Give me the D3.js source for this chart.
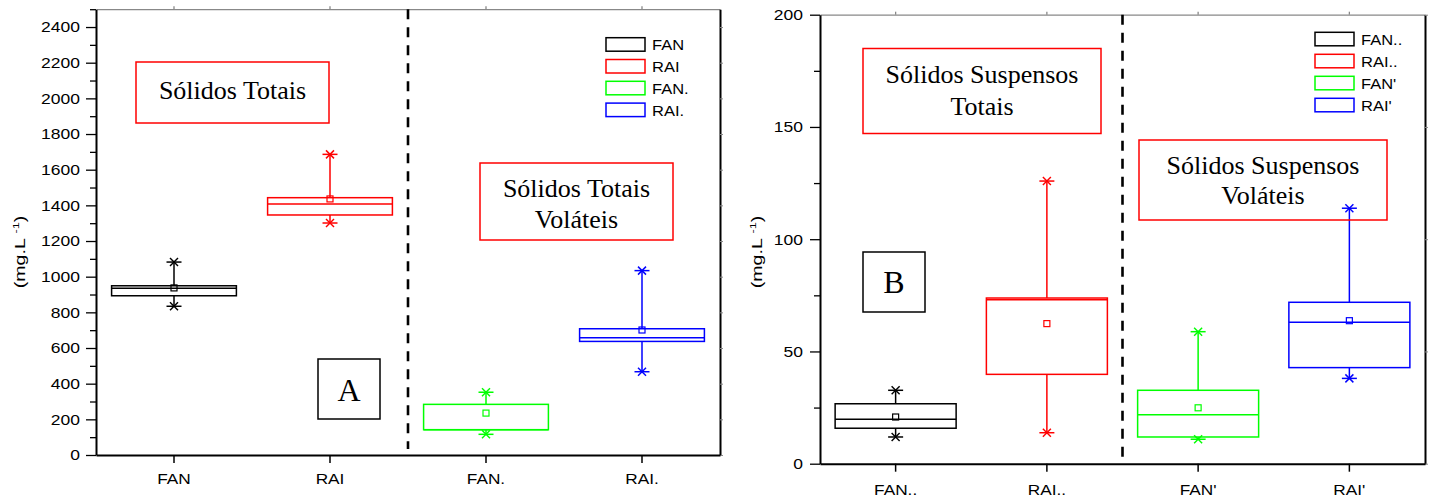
<!DOCTYPE html>
<meta charset="utf-8">
<script src="https://d3js.org/d3.v7.min.js"></script>
<style>
body { margin: 0; background: #fff; }
text { font-family: "Liberation Sans", Arial, sans-serif; fill: #000; }
.serif { font-family: "Liberation Serif", "Times New Roman", serif; }
</style>
<body></body>
<script>

// panel A : total solids (mg/L)
var catsA = ["FAN", "RAI", "FAN.", "RAI."];
var minA  = [834, 1301, 116, 467];
var q1A   = [893, 1346, 142, 637];
var medA  = [935, 1408, 142, 658];
var q3A   = [949, 1443, 284, 708];
var maxA  = [1082, 1686, 352, 1034];
var meanA = [937, 1436, 235, 701];
var ticksA = [0, 200, 400, 600, 800, 1000, 1200, 1400, 1600, 1800, 2000, 2200, 2400];

// panel B : suspended solids (mg/L)
var catsB = ["FAN..", "RAI..", "FAN'", "RAI'"];
var minB  = [11.9, 13.8, 10.9, 38];
var q1B   = [15.8, 39.8, 11.9, 42.8];
var medB  = [19.8, 73, 21.8, 63];
var q3B   = [26.7, 73.8, 32.7, 71.9];
var maxB  = [32.7, 125.9, 58.8, 113.8];
var meanB = [20.8, 62.4, 24.9, 63.7];
var ticksB = [0, 50, 100, 150, 200];

var colors = ["#000000", "#ff0000", "#00ff00", "#0000ff"];

var svg = d3.select("body").append("svg")
    .attr("width", 1432)
    .attr("height", 497);

var panels = [
  {cats: catsA, lo: minA, q1: q1A, med: medA, q3: q3A, hi: maxA, mean: meanA,
   ticks: ticksA, minor: d3.range(100, 2501, 200), domain: [0, 2500],
   left: 96, right: 720, top: 9.2, bottom: 455,
   labelX: -16, xLabelY: 29, titleX: 25, titleY: 252,
   legend: {x: 606, y: 37.7, step: 21.8, textX: 652},
   notes: [
     {x: 136, y: 62, w: 193, h: 61, stroke: "#ff0000", lines: ["Sólidos Totais"], size: 26, base: 98.5},
     {x: 480, y: 163, w: 193, h: 77, stroke: "#ff0000", lines: ["Sólidos Totais", "Voláteis"], size: 26, base: 196.5, lh: 31},
     {x: 318, y: 359, w: 62, h: 60, stroke: "#000", lines: ["A"], size: 32, base: 400.5}
   ]},
  {cats: catsB, lo: minB, q1: q1B, med: medB, q3: q3B, hi: maxB, mean: meanB,
   ticks: ticksB, minor: [25, 75, 125, 175], domain: [0, 200],
   left: 820, right: 1425, top: 14.7, bottom: 463.7,
   labelX: -17, xLabelY: 31, titleX: 762, titleY: 252,
   legend: {x: 1315, y: 32.3, step: 22, textX: 1361},
   notes: [
     {x: 863, y: 48.5, w: 238, h: 85, stroke: "#ff0000", lines: ["Sólidos Suspensos", "Totais"], size: 26, base: 82.5, lh: 32.5},
     {x: 1139, y: 140, w: 248, h: 80, stroke: "#ff0000", lines: ["Sólidos Suspensos", "Voláteis"], size: 26, base: 174, lh: 30},
     {x: 863, y: 252, w: 62, h: 60, stroke: "#000", lines: ["B"], size: 32, base: 292.5}
   ]}
];

panels.forEach(function(p) {
  var x = d3.scaleBand().domain(p.cats).range([p.left, p.right]);
  var y = d3.scaleLinear().domain(p.domain).range([p.bottom, p.top]);
  var bw = x.bandwidth() * 0.8;
  var g = svg.append("g");

  // top border with small ticks
  g.append("g")
    .attr("transform", "translate(0," + p.top + ")")
    .call(d3.axisTop(x).tickSize(3).tickSizeOuter(0).tickFormat(""))
    .selectAll("path,line").attr("stroke", "#888").attr("stroke-width", 1.3);

  // right border
  g.append("g")
    .attr("transform", "translate(" + p.right + ",0)")
    .call(d3.axisRight(y).tickValues(p.ticks).tickSize(3).tickSizeOuter(0).tickFormat(""))
    .call(function(a) {
      a.select(".domain").attr("stroke", "#000").attr("stroke-width", 2);
      a.selectAll(".tick line").attr("stroke", "#888");
    });

  // left axis, major + minor
  var yAxis = g.append("g")
    .attr("transform", "translate(" + p.left + ",0)")
    .call(d3.axisLeft(y).tickValues(p.ticks).tickSize(10).tickSizeOuter(0).tickFormat(d3.format("d")));
  yAxis.select(".domain").attr("stroke-width", 2);
  yAxis.selectAll(".tick line").attr("stroke-width", 1.3);
  yAxis.selectAll(".tick text")
    .attr("x", null).attr("dy", "0.35em")
    .attr("font-size", 14)
    .attr("font-family", "Liberation Sans, Arial, sans-serif")
    .attr("transform", "translate(" + p.labelX + ",0) scale(1.25,1)");

  g.append("g")
    .attr("transform", "translate(" + p.left + ",0)")
    .call(d3.axisLeft(y).tickValues(p.minor).tickSize(6).tickSizeOuter(0).tickFormat(""))
    .call(function(a) {
      a.select(".domain").remove();
      a.selectAll(".tick line").attr("stroke-width", 1.3);
    });

  // bottom axis
  var xAxis = g.append("g")
    .attr("transform", "translate(0," + p.bottom + ")")
    .call(d3.axisBottom(x).tickSize(8).tickSizeOuter(0));
  xAxis.select(".domain").attr("stroke-width", 2);
  xAxis.selectAll(".tick line").attr("stroke-width", 1.5);
  xAxis.selectAll(".tick text")
    .attr("y", null).attr("dy", null)
    .attr("font-size", 15)
    .attr("font-family", "Liberation Sans, Arial, sans-serif")
    .attr("transform", "translate(0," + p.xLabelY + ") scale(1.15,1)");

  // y title
  var t = g.append("text")
    .attr("transform", "translate(" + p.titleX + "," + p.titleY + ") rotate(-90) scale(1.4,1)")
    .attr("text-anchor", "middle")
    .attr("font-size", 14);
  t.append("tspan").text("(mg.L ");
  t.append("tspan").attr("font-size", 9).attr("dy", -6).text("-1");
  t.append("tspan").attr("dy", 6).text(")");

  // dashed separator between the two groups
  var sepX = x(p.cats[2]);
  g.append("line")
    .attr("x1", sepX).attr("x2", sepX)
    .attr("y1", p.top).attr("y2", p.bottom - 6)
    .attr("stroke", "#000")
    .attr("stroke-width", 2.6)
    .attr("stroke-dasharray", "10,8");

  // boxes
  var idx = d3.range(p.cats.length);
  var box = g.selectAll(".box").data(idx).enter().append("g")
    .attr("class", "box")
    .attr("fill", "none")
    .attr("stroke", function(i) { return colors[i]; })
    .attr("stroke-width", 1.5);

  box.append("line")
    .attr("x1", function(i) { return x(p.cats[i]) + x.bandwidth() / 2; })
    .attr("x2", function(i) { return x(p.cats[i]) + x.bandwidth() / 2; })
    .attr("y1", function(i) { return y(p.q3[i]); })
    .attr("y2", function(i) { return y(p.hi[i]); });
  box.append("line")
    .attr("x1", function(i) { return x(p.cats[i]) + x.bandwidth() / 2; })
    .attr("x2", function(i) { return x(p.cats[i]) + x.bandwidth() / 2; })
    .attr("y1", function(i) { return y(p.q1[i]); })
    .attr("y2", function(i) { return y(p.lo[i]); });

  box.append("rect")
    .attr("x", function(i) { return x(p.cats[i]) + (x.bandwidth() - bw) / 2; })
    .attr("width", bw)
    .attr("y", function(i) { return y(p.q3[i]); })
    .attr("height", function(i) { return y(p.q1[i]) - y(p.q3[i]); });

  box.append("line")
    .attr("x1", function(i) { return x(p.cats[i]) + (x.bandwidth() - bw) / 2; })
    .attr("x2", function(i) { return x(p.cats[i]) + (x.bandwidth() + bw) / 2; })
    .attr("y1", function(i) { return y(p.med[i]); })
    .attr("y2", function(i) { return y(p.med[i]); });

  // mean marker
  box.append("rect")
    .attr("x", function(i) { return x(p.cats[i]) + x.bandwidth() / 2 - 3; })
    .attr("y", function(i) { return y(p.mean[i]) - 3; })
    .attr("width", 6).attr("height", 6)
    .attr("stroke-width", 1.2);

  // asterisk at whisker ends
  ["lo", "hi"].forEach(function(k) {
    var star = box.append("g")
      .attr("transform", function(i) {
        return "translate(" + (x(p.cats[i]) + x.bandwidth() / 2) + "," + y(p[k][i]) + ")";
      });
    star.append("line").attr("x1", -7.5).attr("x2", 7.5).attr("y1", 0).attr("y2", 0);
    star.append("line").attr("x1", -4).attr("x2", 4).attr("y1", -4).attr("y2", 4);
    star.append("line").attr("x1", -4).attr("x2", 4).attr("y1", 4).attr("y2", -4);
  });

  // legend
  var leg = g.selectAll(".leg").data(idx).enter().append("g")
    .attr("class", "leg")
    .attr("transform", function(i) { return "translate(" + p.legend.x + "," + (p.legend.y + i * p.legend.step) + ")"; });
  leg.append("rect")
    .attr("width", 39).attr("height", 13.5)
    .attr("fill", "none")
    .attr("stroke", function(i) { return colors[i]; })
    .attr("stroke-width", 1.5);
  leg.append("text")
    .attr("transform", "translate(" + (p.legend.textX - p.legend.x) + ",12.5) scale(1.1,1)")
    .attr("font-size", 15)
    .text(function(i) { return p.cats[i]; });

  // annotation boxes
  p.notes.forEach(function(n) {
    g.append("rect")
      .attr("x", n.x).attr("y", n.y).attr("width", n.w).attr("height", n.h)
      .attr("fill", "none").attr("stroke", n.stroke).attr("stroke-width", 1.5);
    n.lines.forEach(function(s, j) {
      g.append("text")
        .attr("class", "serif")
        .attr("x", n.x + n.w / 2)
        .attr("y", n.base + j * (n.lh || 0))
        .attr("text-anchor", "middle")
        .attr("font-size", n.size)
        .text(s);
    });
  });
});

</script>
